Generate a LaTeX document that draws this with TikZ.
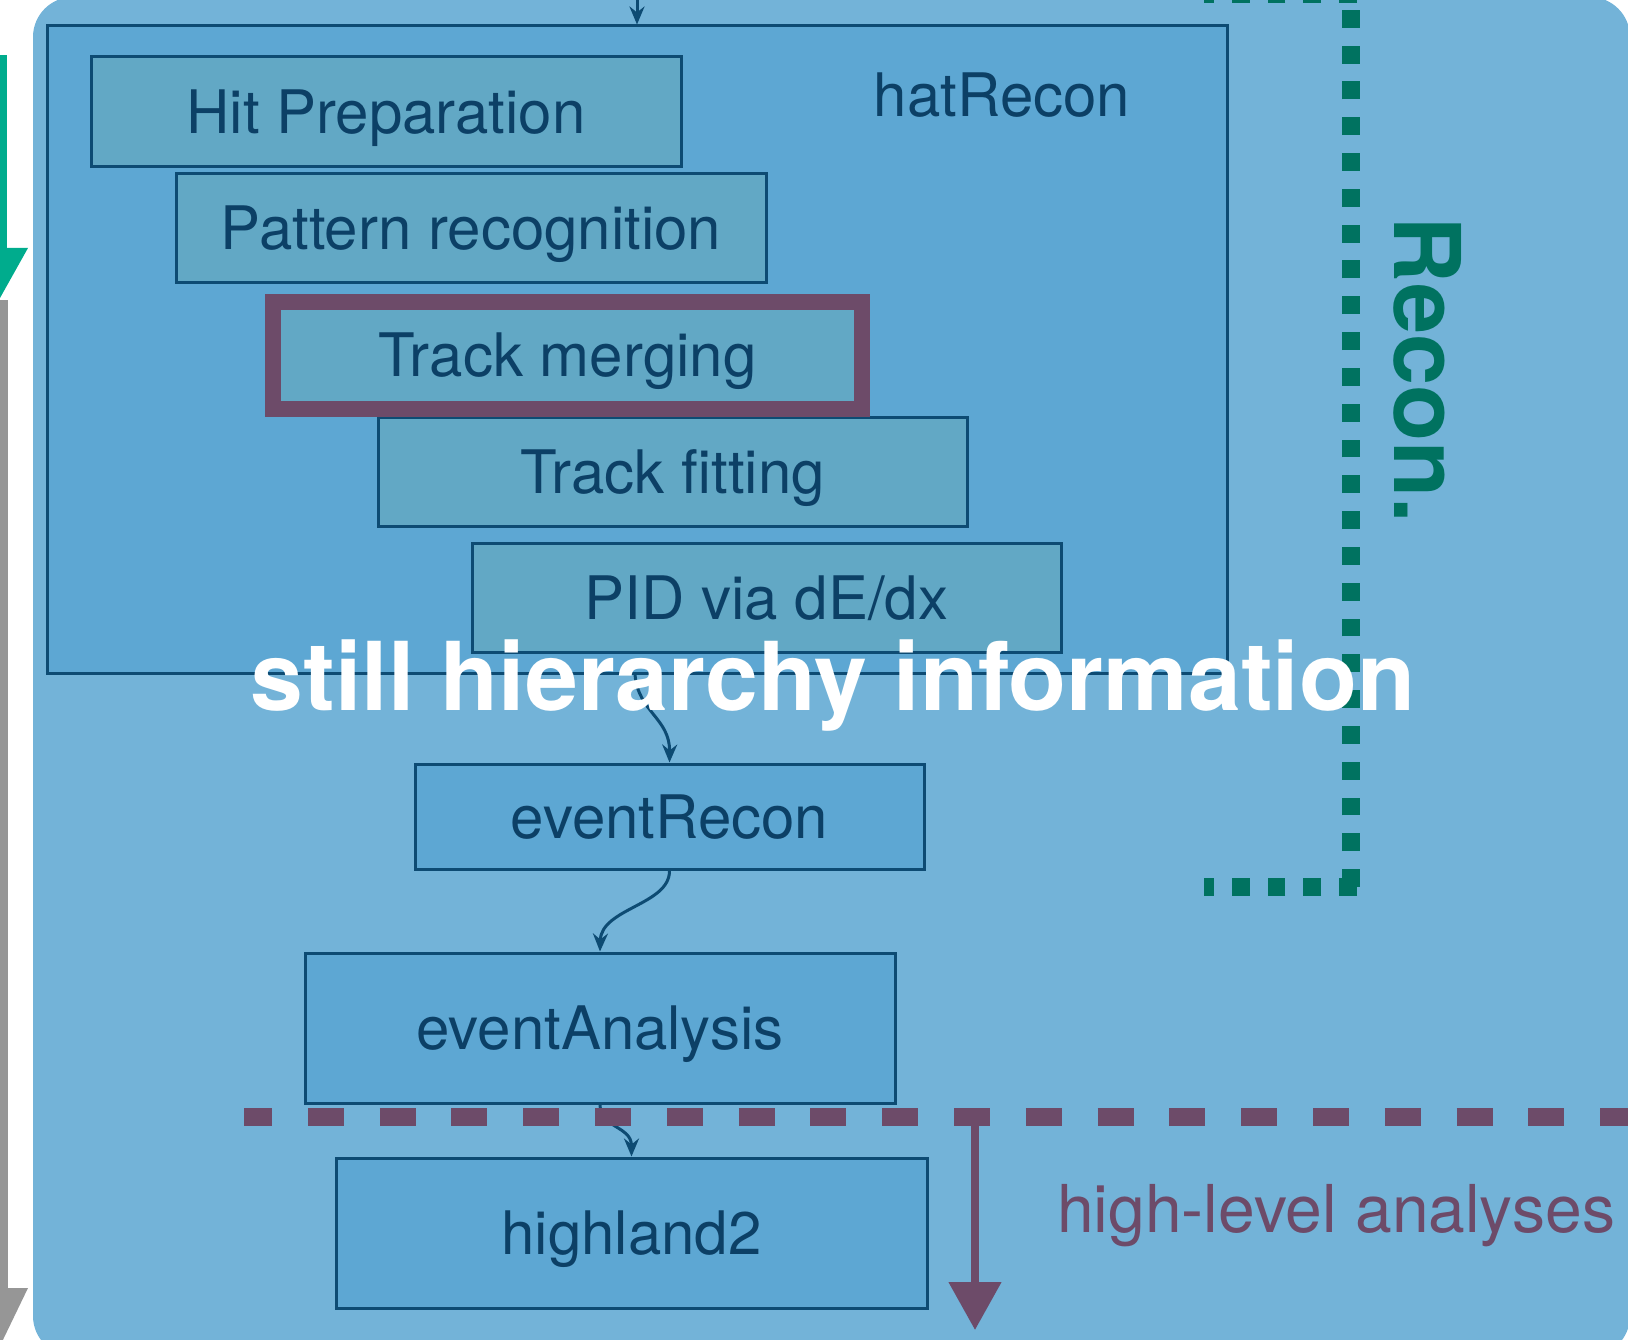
\documentclass[tikz,border=0pt]{standalone}
\usepackage{fontspec}
\setmainfont{TeX Gyre Heros}
\usetikzlibrary{arrows.meta,calc}
\definecolor{bgblue}{HTML}{73B3D8}
\definecolor{boxblue}{HTML}{5DA7D3}
\definecolor{subblue}{HTML}{62A8C5}
\definecolor{navyline}{HTML}{0D4B73}
\definecolor{navytext}{HTML}{0C4066}
\definecolor{mauve}{HTML}{6D4B69}
\definecolor{recgreen}{HTML}{007260}
\definecolor{arrgreen}{HTML}{00AC8D}
\definecolor{arrgray}{HTML}{969696}
\tikzset{
  bigbox/.style={draw=navyline, line width=3pt, fill=boxblue, inner sep=0pt},
  subbox/.style={draw=navyline, line width=3pt, fill=subblue, inner sep=0pt,
    font=\fontsize{60}{72}\selectfont, text=navytext, text height=43pt, text depth=0pt},
  flowbox/.style={subbox, fill=boxblue},
  conn/.style={draw=navyline, line width=3pt, -{Stealth[length=18pt,width=15pt,inset=6pt]}},
  gdots/.style={draw=recgreen, line width=18pt, dash pattern=on 17.9pt off 17.9pt},
}
\begin{document}
\begin{tikzpicture}[x=1pt,y=-1pt]
\useasboundingbox (0,0) rectangle (1628,1340);
% background panel
\fill[bgblue, rounded corners=40pt] (33,-3) rectangle (1630,1356);
% left arrows
\fill[arrgreen] (-7,55) rectangle (7,250);
\fill[arrgreen] (-28,248) -- (28,248) -- (0,298) -- cycle;
\fill[arrgray] (-8,300) rectangle (8,1290);
\fill[arrgray] (-28,1288) -- (28,1288) -- (0,1346) -- cycle;
% hatRecon
\node[bigbox, minimum width=1180pt, minimum height=647pt] (hat) at (637,349.5) {};
\node[font=\fontsize{60}{72}\selectfont, text=navytext, anchor=base] (hatlabel) at (1002,117) {hatRecon};
\node[subbox, minimum width=590pt, minimum height=110pt] (hit) at (386,112) {Hit Preparation};
\node[subbox, minimum width=590pt, minimum height=109pt] (pat) at (471,228.5) {Pattern recognition};
\node[subbox, minimum width=589pt, minimum height=109pt] (fit) at (672.5,471.5) {Track fitting};
\node[subbox, draw=mauve, line width=16pt, minimum width=589pt, minimum height=107pt] (merge) at (567.5,355.5) {Track merging};
\node[subbox, minimum width=589pt, minimum height=109pt] (pid) at (766.5,597.5) {PID via dE/dx};
% lower boxes
\node[flowbox, minimum width=509pt, minimum height=105pt] (er) at (669.5,816.5) {eventRecon};
\node[flowbox, minimum width=590pt, minimum height=150pt] (ea) at (600,1028) {eventAnalysis};
\node[flowbox, minimum width=591pt, minimum height=150pt] (hl) at (631.5,1233) {highland2};
% connectors
\coordinate (topin) at (637,-6);
\draw[conn] (topin) -- (hat.north);
\draw[conn] ($(hat.south)+(-2,0)$) .. controls (638,712) and (670,718) .. (er.north);
\draw[conn] (er.south) .. controls (670,905) and (601,908) .. (ea.north);
\draw[conn] (ea.south) .. controls (600,1128) and (631.5,1126) .. (hl.north);
% high-level divider
\draw[mauve, line width=18pt, dash pattern=on 36pt off 35.8pt, dash phase=8pt] (244,1117) -- (1640,1117);
\coordinate (hlstart) at (975,1117);
\coordinate (hlend) at (975,1330);
\draw[mauve, line width=8pt, -{Triangle[length=48pt,width=51pt]}] (hlstart) -- (hlend);
\node[font=\fontsize{66}{78}\selectfont, text=mauve, anchor=base] (hla) at (1336,1232) {high-level analyses};
% Recon dotted bracket
\draw[gdots] (1350.5,887) -- (1350.5,-20);
\draw[gdots] (1357,887) -- (1204,887);
\draw[gdots] (1357,-6) -- (1204,-6);
\node[font=\bfseries\fontsize{92}{100}\selectfont, text=recgreen, rotate=-90, text height=66pt, text depth=0pt, inner sep=0pt] (recon) at (1427,370) {Recon.};
% overlay text
\node[font=\bfseries\fontsize{95}{110}\selectfont, text=white, anchor=base] (still) at (833,710) {still hierarchy information};
\end{tikzpicture}
\end{document}
